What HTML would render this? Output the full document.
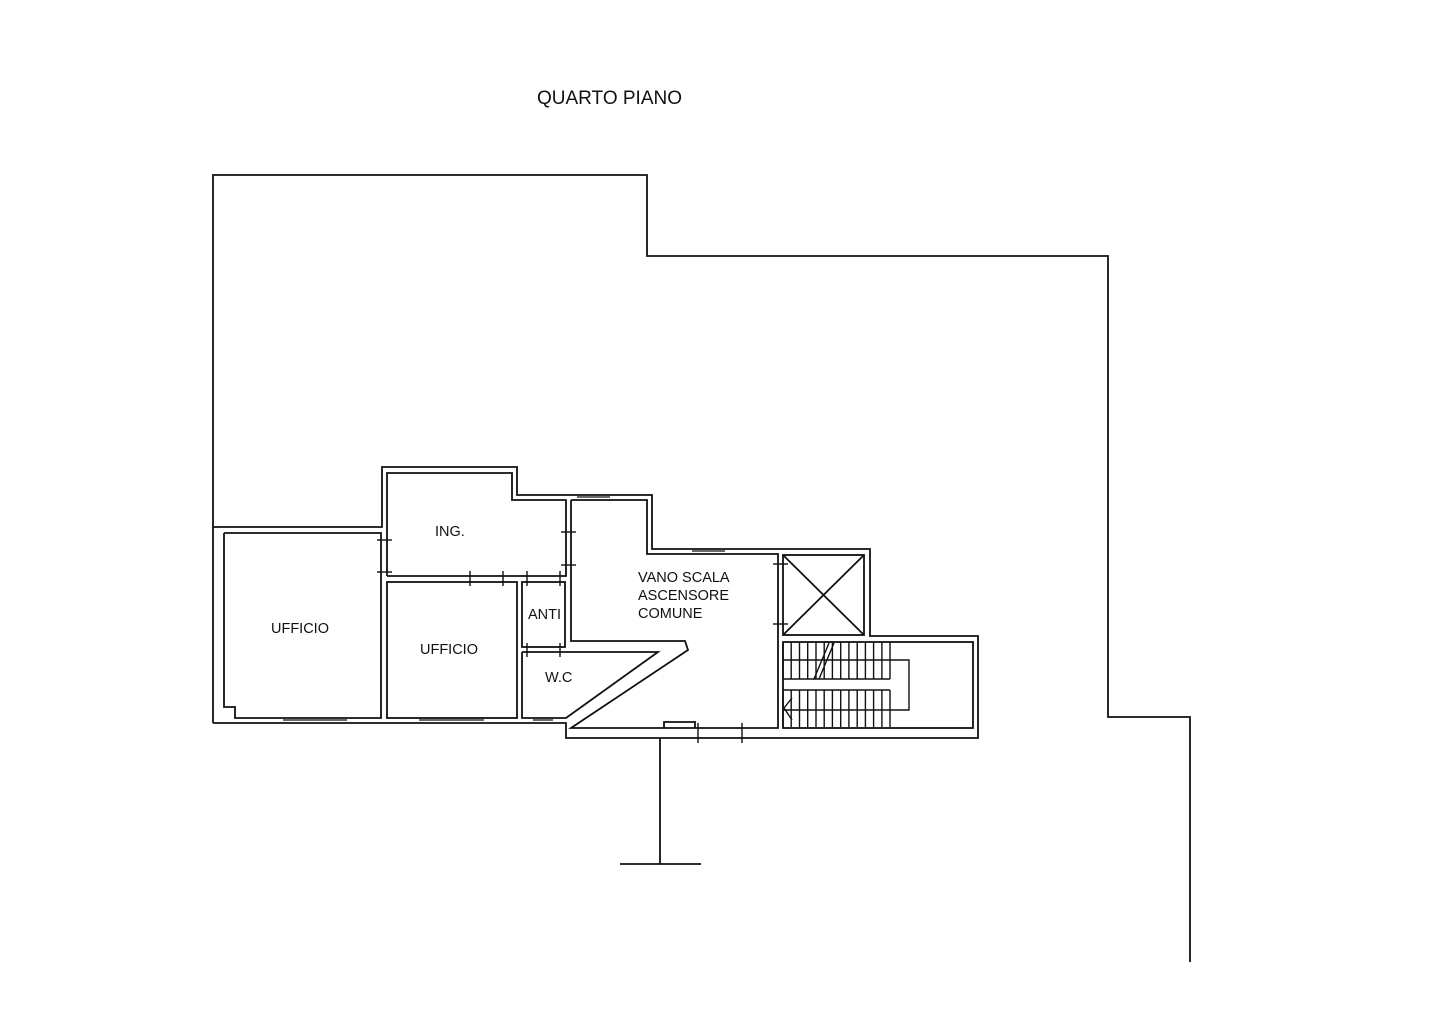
<!DOCTYPE html>
<html><head><meta charset="utf-8"><style>
html,body{margin:0;padding:0;background:#fff;}
svg{display:block;}
text{font-family:"Liberation Sans",Arial,sans-serif;fill:#111;}
</style></head><body>
<svg width="1440" height="1017" viewBox="0 0 1440 1017" xmlns="http://www.w3.org/2000/svg">
<g fill="none" stroke="#111" stroke-width="1.8">
<polyline points="213,723 213,175 647,175 647,256 1108,256 1108,717 1190,717 1190,962"/>
<polyline points="213,527 382,527 382,467 517,467 517,495 652,495 652,549 870,549 870,636 978,636 978,738 566,738 566,723 213,723"/>
<polyline points="224,533 381,533 381,718 235,718 235,707 224,707 224,533"/>
<rect x="387" y="582" width="130" height="136"/>
<polyline points="387,576 387,473 512,473 512,500 566,500 566,576 387,576"/>
<rect x="522" y="582" width="43" height="65"/>
<polyline points="522,652 658,652 566,718 522,718 522,652"/>
<polyline points="571,500 647,500 647,554 778,554 778,728 571,728 688,650 685,641 571,641 571,500"/>
<rect x="783" y="555" width="81" height="80"/>
<line x1="783" y1="555" x2="864" y2="635"/>
<line x1="864" y1="555" x2="783" y2="635"/>
<rect x="783" y="642" width="190" height="86"/>
<line x1="660" y1="738" x2="660" y2="864"/>
<line x1="620" y1="864" x2="701" y2="864"/>
<polyline points="664,728 664,722 695,722 695,728"/>
<line x1="283" y1="720" x2="347" y2="720" stroke-width="1.2"/>
<line x1="419" y1="720" x2="484" y2="720" stroke-width="1.2"/>
<line x1="533" y1="720" x2="553" y2="720" stroke-width="1.2"/>
<line x1="577" y1="497" x2="610" y2="497" stroke-width="1.2"/>
<line x1="692" y1="551" x2="725" y2="551" stroke-width="1.2"/>
</g>
<g fill="none" stroke="#111" stroke-width="1.4">
<line x1="783" y1="660" x2="890" y2="660"/>
<line x1="783" y1="679" x2="890" y2="679"/>
<line x1="783" y1="690" x2="890" y2="690"/>
<line x1="783" y1="710" x2="890" y2="710"/>
<g id="st">
<line x1="783" y1="642" x2="783" y2="679"/><line x1="791.2" y1="642" x2="791.2" y2="679"/><line x1="799.5" y1="642" x2="799.5" y2="679"/><line x1="807.7" y1="642" x2="807.7" y2="679"/><line x1="816" y1="642" x2="816" y2="679"/><line x1="824.2" y1="642" x2="824.2" y2="679"/><line x1="832.4" y1="642" x2="832.4" y2="679"/><line x1="840.7" y1="642" x2="840.7" y2="679"/><line x1="848.9" y1="642" x2="848.9" y2="679"/><line x1="857.2" y1="642" x2="857.2" y2="679"/><line x1="865.4" y1="642" x2="865.4" y2="679"/><line x1="873.6" y1="642" x2="873.6" y2="679"/><line x1="881.9" y1="642" x2="881.9" y2="679"/><line x1="890" y1="642" x2="890" y2="679"/>
</g>
<use href="#st" transform="translate(0,48)"/>
<polyline points="890,660 909,660 909,710 890,710"/>
<line x1="829" y1="643" x2="814" y2="679"/>
<line x1="834" y1="643" x2="819" y2="679"/>
<polyline points="792,698 784,708 792,720"/>
</g>
<g stroke="#111" stroke-width="1.4">
<line x1="377" y1="540" x2="392" y2="540"/><line x1="377" y1="572" x2="392" y2="572"/>
<line x1="561" y1="532" x2="576" y2="532"/><line x1="561" y1="565" x2="576" y2="565"/>
<line x1="470" y1="571" x2="470" y2="586"/><line x1="503" y1="571" x2="503" y2="586"/>
<line x1="527" y1="571" x2="527" y2="586"/><line x1="560" y1="571" x2="560" y2="586"/>
<line x1="527" y1="643" x2="527" y2="657"/><line x1="560" y1="643" x2="560" y2="657"/>
<line x1="773" y1="564" x2="788" y2="564"/><line x1="773" y1="624" x2="788" y2="624"/>
<line x1="698" y1="723" x2="698" y2="743"/><line x1="742" y1="723" x2="742" y2="743"/>
</g>
<text x="537" y="104" font-size="19">QUARTO PIANO</text>
<text x="435" y="536" font-size="14.5">ING.</text>
<text x="271" y="633" font-size="14.5">UFFICIO</text>
<text x="420" y="654" font-size="14.5">UFFICIO</text>
<text x="528" y="619" font-size="14.5">ANTI</text>
<text x="545" y="682" font-size="14.5">W.C</text>
<text x="638" y="582" font-size="14.5">VANO SCALA</text>
<text x="638" y="600" font-size="14.5">ASCENSORE</text>
<text x="638" y="618" font-size="14.5">COMUNE</text>
</svg>
</body></html>
